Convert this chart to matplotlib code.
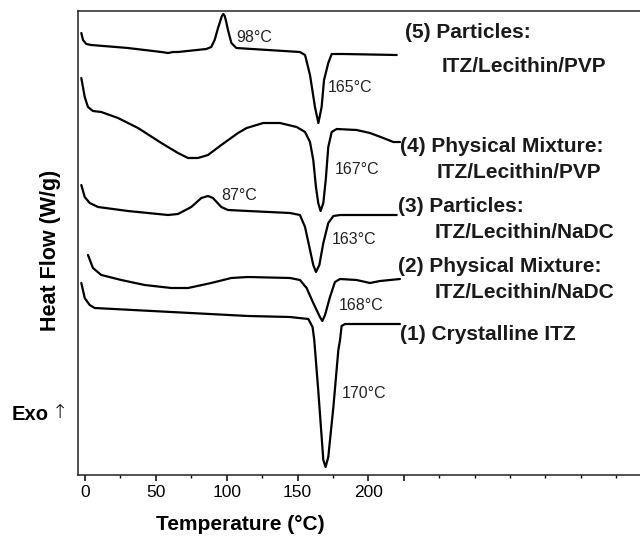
import matplotlib
matplotlib.use("Agg")
import matplotlib.pyplot as plt
import numpy as np

plt.rcParams['font.family'] = ['Liberation Sans', 'DejaVu Sans']

# ---- data: temperature (°C) and offset heat flow (a.u., exo up) ----
t5 = [-2.6, -1.4, 0.9, 4.4, 30.3, 53.9, 58.6, 62.1, 65.6, 85.6, 89.1, 91.5, 93.9, 95.5, 96.6,
      97.6, 98.6, 99.7, 100.9, 103.3, 106.8, 151.7, 155.3, 158.8, 162.3, 164.7, 167, 168.7,
      171.7, 174.1, 182.3, 220]
h5 = [44.2, 43.5, 43.1, 43.0, 42.7, 42.3, 42.2, 42.3, 42.3, 42.6, 42.8, 43.5, 44.7, 45.4, 45.9,
      46.1, 45.9, 45.3, 44.5, 43.2, 42.7, 42.3, 42.0, 40.0, 36.8, 35.2, 36.8, 39.5,
      41.2, 42.1, 42.1, 42.0]

t4 = [-2.6, -0.2, 2.1, 5.6, 11.5, 23.3, 37.4, 53.9, 65.6, 72.7, 79.7, 86.8, 96.2, 108, 114.1,
      125.8, 137.6, 149.4, 155.3, 158.8, 161.1, 163, 164.6, 166.3, 168.2, 169.9, 171.7, 174.1,
      177.6, 191.7, 201.1, 210.5, 217.6, 222.3]
h4 = [39.7, 37.8, 36.8, 36.4, 36.3, 35.7, 34.7, 33.2, 32.2, 31.7, 31.7, 32.0, 33.0, 34.2, 34.7,
      35.2, 35.2, 34.8, 34.3, 33.3, 31.5, 28.8, 27.2, 26.4, 27.2, 29.5, 32.8, 34.3,
      34.6, 34.5, 34.2, 33.7, 33.3, 33.3]

t3 = [-2.6, -0.2, 3.3, 9.2, 30.3, 58.6, 65.6, 75, 82.1, 86.8, 90.3, 96.2, 100.9, 115, 144.7,
      151.7, 155.3, 158.8, 161.1, 163, 165.4, 168.2, 171.7, 175.3, 180, 220]
h3 = [29.0, 27.8, 27.2, 26.8, 26.4, 26.0, 26.1, 26.8, 27.7, 27.9, 27.7, 26.8, 26.5, 26.4, 26.2,
      26.0, 24.8, 22.5, 21.0, 20.3, 21.0, 23.2, 25.2, 25.9, 26.0, 26.0]

t2 = [2.1, 5.6, 11.5, 25.6, 42.1, 60.9, 72.7, 89.1, 103.2, 115, 144.7, 151.7, 156.4, 161.1,
      165.8, 167.5, 169.4, 172.9, 176.4, 180, 191.7, 201.1, 208.2, 222.3]
h2 = [22.0, 20.7, 20.0, 19.5, 19.0, 18.7, 18.7, 19.2, 19.7, 19.8, 19.7, 19.5, 18.7, 17.2,
      15.8, 15.4, 16.0, 17.8, 19.3, 19.6, 19.5, 19.2, 19.4, 19.6]

t1 = [-2.6, -0.2, 3.3, 6.8, 115, 144.7, 157.6, 160.6, 161.8, 164.6, 168.2, 169.8, 171.7, 175.3,
      178.8, 180, 181.1, 183.5, 222.3]
h1 = [19.2, 17.7, 17.0, 16.7, 15.9, 15.8, 15.6, 14.8, 13.5, 8.5, 1.5, 0.8, 1.8, 6.8,
      12.5, 13.5, 14.9, 15.1, 15.1]

peak_labels = ['98°C', '165°C', '167°C', '87°C', '163°C', '168°C', '170°C']
peak_x = [107.1, 171.5, 176.4, 96.5, 174.1, 178.8, 181.1]
peak_y = [43.8, 38.7, 30.5, 28.0, 23.5, 17.0, 8.2]

series_labels = ['(5) Particles:', 'ITZ/Lecithin/PVP',
                 '(4) Physical Mixture:', 'ITZ/Lecithin/PVP',
                 '(3) Particles:', 'ITZ/Lecithin/NaDC',
                 '(2) Physical Mixture:', 'ITZ/Lecithin/NaDC',
                 '(1) Crystalline ITZ']
series_x = [225.8, 251.7, 222.3, 248.2, 220.9, 247.0, 220.9, 247.0, 222.3]
series_y = [44.2, 40.8, 32.8, 30.2, 26.8, 24.2, 20.8, 18.2, 14.0]

major_ticks = [0, 50, 100, 150, 200, 225]
major_labels = ['0', '50', '100', '150', '200', '']
minor_ticks = [25, 75, 125, 175, 250, 275, 300, 325, 350, 375]

# ---- figure ----
fig = plt.figure(figsize=(6.4, 5.36), dpi=100)
ax = fig.add_axes([78 / 640, 1 - 475 / 536, 1 - 78 / 640, (475 - 11) / 536])

for t, h in [(t5, h5), (t4, h4), (t3, h3), (t2, h2), (t1, h1)]:
    ax.plot(t, h, color='black', lw=1.6, solid_joinstyle='round', solid_capstyle='round')

ax.set_xlim(-4.94, 391.7)
ax.set_ylim(0, 46.4)

for s, x, y in zip(peak_labels, peak_x, peak_y):
    ax.text(x, y, s, fontsize=11.5, ha='left', va='center', color='#222222')

for s, x, y in zip(series_labels, series_x, series_y):
    ax.text(x, y, s, fontsize=15, fontweight='bold', ha='left', va='center',
            color='#1a1a1a', clip_on=False)

ax.spines['right'].set_visible(False)
for sp in ['left', 'top', 'bottom']:
    ax.spines[sp].set_linewidth(1.1)
    ax.spines[sp].set_color('#222222')

ax.set_xticks(major_ticks)
ax.set_xticklabels(major_labels, fontsize=12.5)
ax.set_xticks(minor_ticks, minor=True)
ax.tick_params(axis='x', which='major', direction='out', length=4, width=1.1, pad=3)
ax.tick_params(axis='x', which='minor', direction='out', length=2.5, width=1.0)
ax.set_yticks([])

fig.text(240.8 / 640, 1 - 525 / 536, 'Temperature (°C)', fontsize=15, fontweight='bold',
         ha='center', va='center')
fig.text(51 / 640, 1 - 250 / 536, 'Heat Flow (W/g)', fontsize=15.5, fontweight='bold',
         ha='center', va='center', rotation=90)
fig.text(12 / 640, 1 - 415 / 536, 'Exo', fontsize=14.5, fontweight='bold',
         ha='left', va='center')
fig.text(52 / 640, 1 - 413 / 536, '↑', fontsize=14, ha='left', va='center',
         family=['DejaVu Sans'], fontweight='light')

fig.savefig('out.png', dpi=100)
